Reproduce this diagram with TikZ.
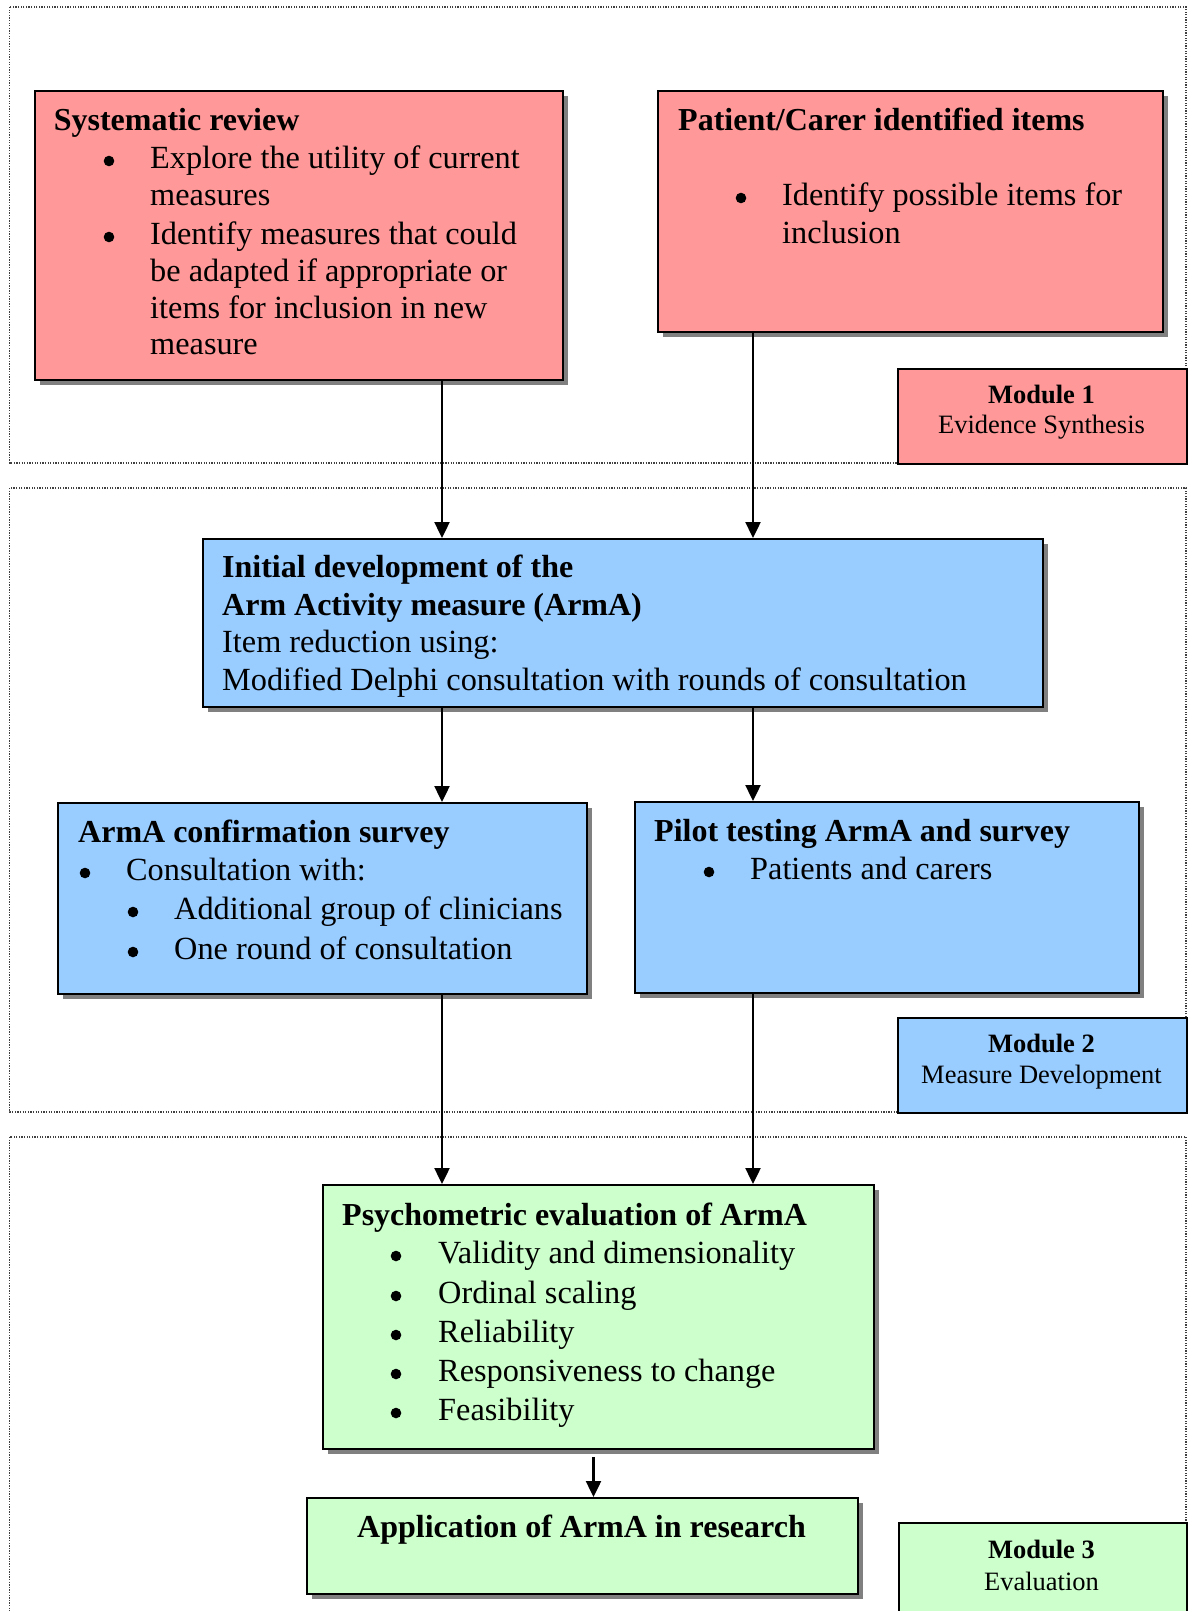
\documentclass[tikz,border=0pt]{standalone}
\usepackage{fontspec}
\setmainfont{Liberation Serif}
\usetikzlibrary{shadows,arrows.meta}

\definecolor{pinkfill}{HTML}{FF9999}
\definecolor{bluefill}{HTML}{99CCFF}
\definecolor{greenfill}{HTML}{CCFFCC}
\definecolor{shadowgray}{HTML}{808080}

\tikzset{
  frame/.style={draw=black!75, line width=1.2pt, dash pattern=on 1.3pt off 1.3pt},
  stage/.style={draw=black, line width=2pt, rectangle, inner sep=0pt, anchor=north west,
    drop shadow={shadow xshift=5pt, shadow yshift=-5pt, fill=shadowgray, opacity=1}},
  modbox/.style={draw=black, line width=1.8pt, rectangle, inner sep=0pt, anchor=north west},
  txt/.style={inner sep=0pt, anchor=base west, font=\fontsize{32.3}{37}\selectfont},
  ttl/.style={txt, font=\fontsize{32}{37}\selectfont\bfseries},
  modt/.style={inner sep=0pt, anchor=base, font=\fontsize{26.5}{30}\selectfont\bfseries},
  modn/.style={inner sep=0pt, anchor=base, font=\fontsize{26.5}{30}\selectfont},
  flow/.style={line width=2.4pt, -{Triangle[length=16pt,width=15pt]}},
}
% a filled list bullet placed 7 units above the given baseline
\newcommand{\bul}[2]{\fill (#1,#2-7) circle (5.3);}

\begin{document}
\begin{tikzpicture}[x=1pt,y=-1pt]
\useasboundingbox (0,0) rectangle (1189,1611);
\clip (0,0) rectangle (1189,1611);

% dotted module frames
\draw[frame] (9.6,7) rectangle (1186,463);
\draw[frame] (9.6,488) rectangle (1186,1112);
\draw[frame] (9.6,1137) rectangle (1186,1700);

% ---------- Module 1 ----------
\node[stage, fill=pinkfill, minimum width=528pt, minimum height=289pt] (sr) at (34,90) {};
\node[stage, fill=pinkfill, minimum width=505pt, minimum height=241pt] (pc) at (657,90) {};
\node[modbox, fill=pinkfill, minimum width=289pt, minimum height=95pt] (m1) at (897,368) {};

\node[ttl] (srt) at (53.6,130) {Systematic review};
\bul{109}{168}
\node[txt] (sr1) at (150,168) {Explore the utility of current};
\node[txt] (sr2) at (150,205) {measures};
\bul{109}{244}
\node[txt] (sr3) at (150,244) {Identify measures that could};
\node[txt] (sr4) at (150,281) {be adapted if appropriate or};
\node[txt] (sr5) at (150,318) {items for inclusion in new};
\node[txt] (sr6) at (150,354) {measure};

\node[ttl] (pct) at (678,130) {Patient/Carer identified items};
\bul{741}{205}
\node[txt] (pc1) at (782,205) {Identify possible items for};
\node[txt] (pc2) at (782,243) {inclusion};

\node[modt] (m1a) at (1041.5,403) {Module 1};
\node[modn] (m1b) at (1041.5,433) {Evidence Synthesis};

% ---------- Module 2 ----------
\node[stage, fill=bluefill, minimum width=840pt, minimum height=168pt] (init) at (202,538) {};
\node[stage, fill=bluefill, minimum width=528.5pt, minimum height=191pt] (conf) at (57,802) {};
\node[stage, fill=bluefill, minimum width=504pt, minimum height=191pt] (pilot) at (634,801) {};
\node[modbox, fill=bluefill, minimum width=289pt, minimum height=95pt] (m2) at (897,1017) {};

\node[ttl] (in1) at (222,577) {Initial development of the};
\node[ttl] (in2) at (222,615) {Arm Activity measure (ArmA)};
\node[txt] (in3) at (222,652) {Item reduction using:};
\node[txt] (in4) at (222,690) {Modified Delphi consultation with rounds of consultation};

\node[ttl] (cft) at (78,842) {ArmA confirmation survey};
\bul{85}{880}
\node[txt] (cf1) at (126,880) {Consultation with:};
\bul{133}{919}
\node[txt] (cf2) at (174,919) {Additional group of clinicians};
\bul{133}{959}
\node[txt] (cf3) at (174,959) {One round of consultation};

\node[ttl] (plt) at (654,841) {Pilot testing ArmA and survey};
\bul{709}{879}
\node[txt] (pl1) at (750,879) {Patients and carers};

\node[modt] (m2a) at (1041.5,1052) {Module 2};
\node[modn] (m2b) at (1041.5,1083) {Measure Development};

% ---------- Module 3 ----------
\node[stage, fill=greenfill, minimum width=551.5pt, minimum height=264pt] (psy) at (321.5,1184) {};
\node[stage, fill=greenfill, minimum width=551.3pt, minimum height=96pt] (app) at (305.7,1497) {};
\node[modbox, fill=greenfill, minimum width=288pt, minimum height=200pt] (m3) at (898,1522) {};

\node[ttl] (pst) at (342,1225) {Psychometric evaluation of ArmA};
\bul{396}{1263}
\node[txt] (ps1) at (438,1263) {Validity and dimensionality};
\bul{396}{1303}
\node[txt] (ps2) at (438,1303) {Ordinal scaling};
\bul{396}{1342}
\node[txt] (ps3) at (438,1342) {Reliability};
\bul{396}{1381}
\node[txt] (ps4) at (438,1381) {Responsiveness to change};
\bul{396}{1420}
\node[txt] (ps5) at (438,1420) {Feasibility};

\node[ttl, anchor=base] (apt) at (581.5,1537) {Application of ArmA in research};

\node[modt] (m3a) at (1041.5,1558) {Module 3};
\node[modn] (m3b) at (1041.5,1590) {Evaluation};

% ---------- connectors ----------
\coordinate (colL) at (442,0);
\coordinate (colR) at (753,0);
\coordinate (colM) at (593.5,0);

\draw[flow] (sr.south -| colL) -- (init.north -| colL);
\draw[flow] (pc.south -| colR) -- (init.north -| colR);
\draw[flow] (init.south -| colL) -- (conf.north -| colL);
\draw[flow] (init.south -| colR) -- (pilot.north -| colR);
\draw[flow] (conf.south -| colL) -- (psy.north -| colL);
\draw[flow] (pilot.south -| colR) -- (psy.north -| colR);
\draw[flow] ([yshift=-7pt]psy.south -| colM) -- (app.north -| colM);
\end{tikzpicture}
\end{document}
